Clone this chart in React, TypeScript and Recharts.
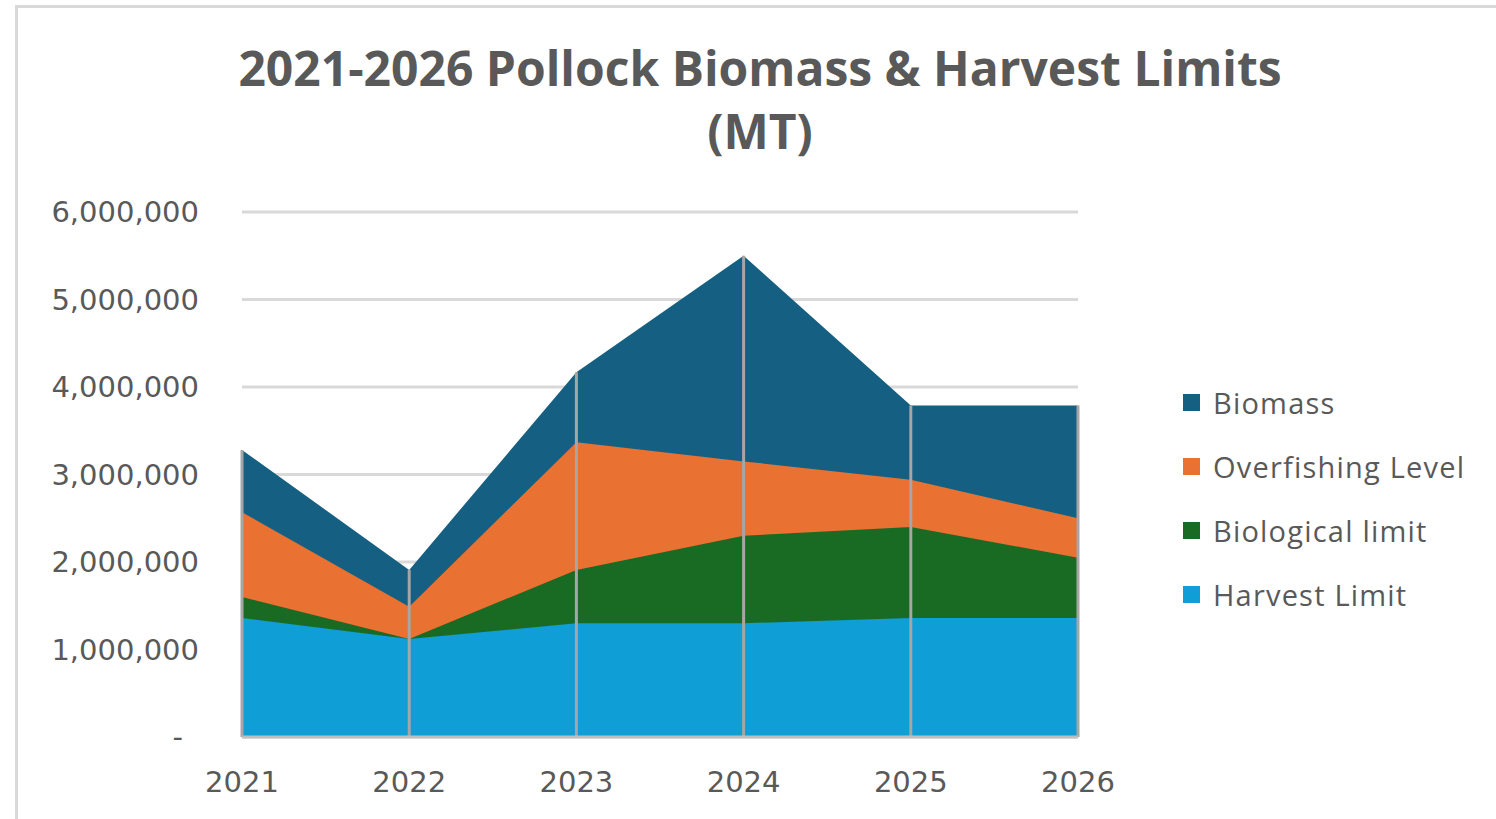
import React from 'react';
import {
  AreaChart,
  Area,
  XAxis,
  YAxis,
  CartesianGrid,
  ReferenceLine,
} from 'recharts';

const years = ['2021', '2022', '2023', '2024', '2025', '2026'];
const biomass = [3280000, 1910000, 4170000, 5500000, 3790000, 3790000];
const overfishing = [2570000, 1490000, 3370000, 3150000, 2940000, 2500000];
const biologicalLimit = [1600000, 1120000, 1910000, 2300000, 2400000, 2050000];
const harvestLimit = [1360000, 1120000, 1300000, 1300000, 1360000, 1360000];
const yTicks = [0, 1000000, 2000000, 3000000, 4000000, 5000000, 6000000];

const series = [
  { key: 'biomass', name: 'Biomass', color: '#156082' },
  { key: 'ofl', name: 'Overfishing Level', color: '#E97132' },
  { key: 'abc', name: 'Biological limit', color: '#196B24' },
  { key: 'tac', name: 'Harvest Limit', color: '#0F9ED5' },
];

const chartData = years.map((year, i) => ({
  year,
  biomass: biomass[i],
  ofl: overfishing[i],
  abc: biologicalLimit[i],
  tac: harvestLimit[i],
}));

const textColor = '#595959';
const tickFont = '"DejaVu Sans", sans-serif';

const YTick = ({ x, y, payload }: any) => {
  const v = payload.value;
  // zero shows as a dash, like the accounting format
  const label = v === 0 ? '-' : v.toLocaleString('en-US');
  return (
    <text
      x={v === 0 ? x - 16 : x}
      y={y}
      dy="0.35em"
      textAnchor="end"
      fill={textColor}
      fontSize={29}
      fontFamily={tickFont}
    >
      {label}
    </text>
  );
};

const App: React.FC = () => {
  return (
    <div style={{ position: 'absolute', left: 0, top: 0, width: 1496, height: 819, overflow: 'hidden', background: '#fff' }}>
      <div
        style={{
          position: 'absolute',
          left: 15,
          top: 5,
          width: 1600,
          height: 900,
          border: '3px solid #d9d9d9',
        }}
      />
      <div
        style={{
          position: 'absolute',
          left: 0,
          width: 1520,
          top: 36,
          textAlign: 'center',
          fontFamily: '"Open Sans", sans-serif',
          fontWeight: 700,
          fontSize: 48,
          lineHeight: '63px',
          color: textColor,
        }}
      >
        2021-2026 Pollock Biomass &amp; Harvest Limits
        <br />
        (MT)
      </div>
      <div style={{ position: 'absolute', left: 0, top: 0 }}>
        <AreaChart
          width={1496}
          height={819}
          data={chartData}
          margin={{ top: 212, right: 418, left: 0, bottom: 52 }}
        >
          <CartesianGrid vertical={false} stroke="#d9d9d9" strokeWidth={3} />
          <XAxis
            dataKey="year"
            height={30}
            axisLine={{ stroke: '#bfbfbf', strokeWidth: 3 }}
            tickLine={false}
            tickSize={0}
            tickMargin={34}
            tick={{ fill: textColor, fontSize: 29, fontFamily: tickFont }}
          />
          <YAxis
            width={242}
            domain={[0, 6000000]}
            ticks={yTicks}
            axisLine={false}
            tickLine={false}
            tickSize={0}
            tickMargin={43}
            tick={<YTick />}
          />
          {series.map((s) => (
            <Area
              key={s.key}
              type="linear"
              dataKey={s.key}
              name={s.name}
              stroke="none"
              fill={s.color}
              fillOpacity={1}
              isAnimationActive={false}
            />
          ))}
          {chartData.map((d) => (
            <ReferenceLine
              key={d.year}
              segment={[
                { x: d.year, y: 0 },
                { x: d.year, y: d.biomass },
              ]}
              stroke="#a6a6a6"
              strokeWidth={3}
            />
          ))}
        </AreaChart>
      </div>
      <div
        style={{
          position: 'absolute',
          left: 1183,
          top: 370,
          fontFamily: '"Open Sans", sans-serif',
          fontSize: 29,
          letterSpacing: 1.2,
          color: textColor,
        }}
      >
        {series.map((s) => (
          <div key={s.key} style={{ display: 'flex', alignItems: 'center', height: 64 }}>
            <span style={{ width: 17, height: 17, background: s.color, marginRight: 13 }} />
            <span>{s.name}</span>
          </div>
        ))}
      </div>
    </div>
  );
};

export default App;
